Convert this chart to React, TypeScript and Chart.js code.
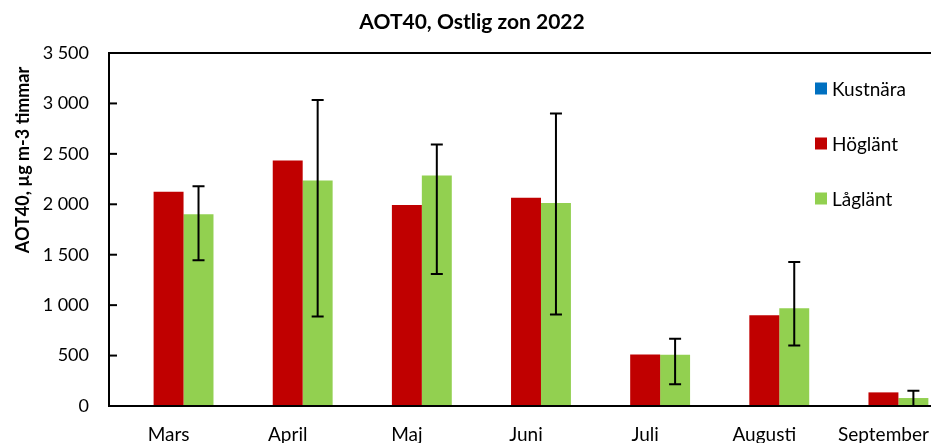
import React, { useEffect, useRef } from "react";
import { Chart, registerables } from "chart.js";

Chart.register(...registerables);

const categories = ["Mars", "April", "Maj", "Juni", "Juli", "Augusti", "September"];
const seriesNames = ["Kustnära", "Höglänt", "Låglänt"];
const kustnara: (number | null)[] = [null, null, null, null, null, null, null];
const higlant = [2125, 2434, 1992, 2065, 511, 900, 135];
const laglant = [1900, 2236, 2286, 2012, 508, 970, 79];
const laglantLow = [1445, 888, 1309, 907, 215, 600, 0];
const laglantHigh = [2180, 3035, 2593, 2899, 666, 1428, 151];
const yTicks = [0, 500, 1000, 1500, 2000, 2500, 3000, 3500];
const titleText = "AOT40, Ostlig zon 2022";
const yTitleText = "AOT40, µg m-3 timmar";
const colors = ["#0070C0", "#C00000", "#92D050"];

const fmt = (v: number) => String(v).replace(/\B(?=(\d{3})+(?!\d))/g, " ");

export default function App() {
  const ref = useRef<HTMLCanvasElement | null>(null);
  useEffect(() => {
    if (!ref.current) return;
    const extras = {
      id: "extras",
      afterDatasetsDraw(chart: any) {
        const ctx = chart.ctx;
        const a = chart.chartArea;
        const ys = chart.scales.y;
        ctx.save();
        // frame
        ctx.strokeStyle = "#000";
        ctx.lineWidth = 2;
        ctx.strokeRect(a.left, a.top, a.right - a.left, a.bottom - a.top);
        // inward y ticks
        ctx.lineWidth = 2;
        yTicks.forEach((t) => {
          const y = ys.getPixelForValue(t);
          ctx.beginPath();
          ctx.moveTo(a.left, y);
          ctx.lineTo(a.left + 8, y);
          ctx.stroke();
        });
        // error bars
        const meta = chart.getDatasetMeta(2);
        ctx.lineWidth = 2;
        meta.data.forEach((bar: any, i: number) => {
          const x = bar.x;
          const yh = ys.getPixelForValue(laglantHigh[i]);
          const yl = ys.getPixelForValue(laglantLow[i]);
          ctx.beginPath();
          ctx.moveTo(x, yh);
          ctx.lineTo(x, yl);
          ctx.moveTo(x - 6, yh);
          ctx.lineTo(x + 6, yh);
          ctx.moveTo(x - 6, yl);
          ctx.lineTo(x + 6, yl);
          ctx.stroke();
        });
        // legend
        ctx.font = "19px Lato";
        ctx.textBaseline = "middle";
        ctx.textAlign = "left";
        const ly = [88.5, 143.5, 198.5];
        seriesNames.forEach((n, i) => {
          ctx.fillStyle = colors[i];
          ctx.fillRect(815, ly[i] - 6, 12, 12);
          ctx.fillStyle = "#000";
          ctx.fillText(n, 832, ly[i] + 1);
        });
        // y title
        ctx.translate(23, 160);
        ctx.rotate(-Math.PI / 2);
        ctx.font = "bold 18px Lato";
        ctx.textAlign = "center";
        ctx.fillStyle = "#000";
        ctx.fillText(yTitleText, 0, 0);
        ctx.restore();
      },
    };
    const chart = new Chart(ref.current, {
      type: "bar",
      data: {
        labels: categories,
        datasets: [
          { label: seriesNames[0], data: kustnara, backgroundColor: colors[0] },
          { label: seriesNames[1], data: higlant, backgroundColor: colors[1] },
          { label: seriesNames[2], data: laglant, backgroundColor: colors[2] },
        ],
      },
      options: {
        responsive: false,
        animation: false,
        datasets: { bar: { categoryPercentage: 0.754, barPercentage: 1 } },
        layout: { padding: { left: 0, right: 2, top: 0, bottom: 0 } },
        plugins: {
          legend: { display: false },
          tooltip: { enabled: false },
          title: {
            display: true,
            text: titleText,
            color: "#000",
            font: { family: "Lato", size: 21, weight: "bold" },
            padding: { top: 10, bottom: 17.8 },
          },
        },
        scales: {
          x: {
            grid: { display: false, drawTicks: false },
            border: { display: false },
            ticks: {
              color: "#000",
              font: { family: "Lato", size: 19 },
              padding: 17,
              maxRotation: 0,
              autoSkip: false,
            },
            afterFit: (s: any) => {
              s.height = 54;
            },
          },
          y: {
            min: 0,
            max: 3500,
            grid: { display: false, drawTicks: false },
            border: { display: false },
            ticks: {
              stepSize: 500,
              color: "#000",
              font: { family: "Lato", size: 18 },
              padding: 20,
              callback: (v: any) => fmt(Number(v)),
            },
            afterFit: (s: any) => {
              s.width = 109;
            },
          },
        },
      },
      plugins: [extras],
    } as any);
    return () => chart.destroy();
  }, []);
  return (
    <div style={{ position: "absolute", left: 0, top: 0, width: 931, height: 443, overflow: "hidden", background: "#fff" }}>
      <canvas ref={ref} width={946} height={460} />
    </div>
  );
}
